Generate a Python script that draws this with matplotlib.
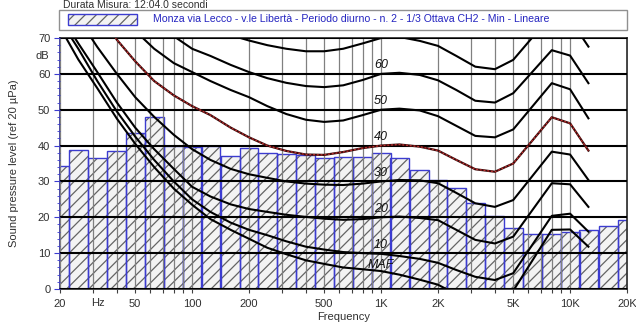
import numpy as np
import matplotlib
matplotlib.use('Agg')
import matplotlib.pyplot as plt
from matplotlib.patches import Rectangle
from matplotlib.ticker import FixedLocator, MultipleLocator, NullFormatter

plt.rcParams['font.family'] = ['Liberation Sans', 'DejaVu Sans']
plt.rcParams['hatch.linewidth'] = 0.9

# livelli minimi per banda di terzo d'ottava (dB)
band_freqs = [20, 25, 31.5, 40, 50, 63, 80, 100, 125, 160, 200, 250, 315, 400, 500,
              630, 800, 1000, 1250, 1600, 2000, 2500, 3150, 4000, 5000, 6300, 8000,
              10000, 12500, 16000, 20000]
band_levels = [34.4, 38.8, 36.5, 38.5, 43.6, 47.9, 40.0, 39.6, 40.0, 37.2, 39.4, 38.0,
               37.6, 37.4, 36.5, 36.7, 36.7, 37.9, 36.5, 33.2, 30.3, 28.1, 23.9, 20.4,
               16.9, 15.4, 15.3, 16.0, 16.4, 17.5, 19.3]

# curve isofoniche
contour_freqs = [20, 25, 31.5, 40, 50, 63, 80, 100, 125, 160, 200, 250, 315, 400, 500,
                 630, 800, 1000, 1250, 1600, 2000, 2500, 3150, 4000, 5000, 8000, 10000, 12500]
maf = [73, 64, 56, 47.5, 40.5, 34, 28, 23.5, 19.5, 16.5, 14, 11.5, 9.7, 8.0, 7.0, 6.0,
       5.5, 5.0, 4.0, 2.6, 1.2, -1.5, -4.0, -5.0, -0.5, 16.5, 16.6, 11.8]
phon10 = [75, 67, 58, 49.5, 42.5, 36, 30, 25, 21.5, 18.5, 16.5, 15, 13.3, 11.8, 11, 10.3,
          10, 9.8, 9.2, 8.4, 7.3, 5.3, 3.4, 2.5, 4.4, 20.4, 21.0, 16.0]
phon20 = [76.5, 68.5, 60.5, 52, 45, 39, 33.5, 28.5, 25.8, 23.6, 22.3, 21.5, 20.7, 20.1,
          19.6, 19.3, 19.5, 20.0, 20.2, 19.8, 19.2, 16.5, 13.7, 12.7, 14.6, 29.5, 29.2, 22.9]
phon30 = [83, 75.5, 67.5, 60, 53.5, 48, 43, 39, 36, 33.5, 32, 31, 30, 29.4, 29.1, 29,
          29.4, 30, 30.4, 30.3, 29.5, 26.8, 23.9, 22.9, 24.8, 38.3, 37.5, 30.4]
phon40 = [93, 86, 78.5, 69.5, 63.5, 58, 54, 51, 48.5, 45, 42.3, 40, 38.5, 37.5, 37.4,
          38.2, 39.3, 40, 40.3, 39.7, 38.6, 36, 33.4, 32.7, 35.0, 47.9, 46.2, 38.6]
phon50 = [99, 92, 85, 78, 72, 67, 63, 60.5, 58, 55.5, 53.5, 51, 48.8, 47.2, 46.6, 47,
          48.5, 50, 50.3, 49.8, 48.2, 45.5, 42.7, 42.3, 44.5, 57.4, 55.7, 47.6]
phon60 = [108, 101, 94, 88, 83, 77, 70.5, 67, 65, 62.5, 60.5, 58.8, 57.5, 56.6, 56.3,
          56.8, 58.3, 60, 60.3, 59.7, 58.2, 55.5, 52.5, 52.0, 54.6, 66.6, 65.1, 57.4]
phon70 = [117, 110, 104, 98, 92, 86, 81, 77, 73.5, 70.8, 69.3, 68, 67, 66.3, 66.3, 67,
          68.5, 70, 70.3, 69.2, 67.8, 65, 62, 61.3, 63.9, 76.5, 75.2, 67.6]

contour_labels = ['MAF', '10', '20', '30', '40', '50', '60']
label_levels = [6.7, 12.3, 22.2, 32.4, 42.5, 52.5, 62.5]

grid_freqs = [20, 30, 40, 50, 60, 70, 80, 90, 100, 200, 300, 400, 500, 600, 700, 800, 900,
              1000, 2000, 3000, 4000, 5000, 6000, 7000, 8000, 9000, 10000, 20000]
xtick_text = {20: '20', 50: '50', 100: '100', 200: '200', 500: '500', 1000: '1K',
              2000: '2K', 5000: '5K', 10000: '10K', 20000: '20K'}

BLUE = '#3c3cd0'
TXT = '#303030'

fig = plt.figure(figsize=(6.36, 3.29), dpi=100)
W, H = 636, 329
ax = fig.add_axes([60 / W, 1 - 289 / H, (627 - 60) / W, (289 - 38) / H])

# barre di terzo d'ottava
f = np.array(band_freqs)
lo = f * 10 ** -0.05
hi = f * 10 ** 0.05
ax.bar(lo, band_levels, width=hi - lo, align='edge', facecolor='#f3f3f3',
       edgecolor='#646464', hatch='///', linewidth=0, zorder=1)
ax.bar(lo, band_levels, width=hi - lo, align='edge', fill=False,
       edgecolor=BLUE, linewidth=1.0, zorder=1.2)

# isofoniche
for lev in [maf, phon10, phon20, phon30, phon50, phon60, phon70]:
    ax.plot(contour_freqs, lev, color='black', lw=1.5, zorder=3)
ax.plot(contour_freqs, phon40, color='#3a0a0a', lw=1.6, zorder=3)
ax.plot(contour_freqs, phon40, color='#c03030', lw=0.9, ls=(0, (1.5, 1.5)), zorder=3.1)

for txt, lev in zip(contour_labels, label_levels):
    ax.text(1000, lev, txt, fontsize=9, fontstyle='italic', ha='center', va='center',
            color='#111111', zorder=4)

ax.set_xscale('log')
ax.set_xlim(20, 20000)
ax.set_ylim(0, 70)

ax.xaxis.set_major_locator(FixedLocator(grid_freqs))
ax.xaxis.set_minor_locator(FixedLocator([]))
ax.set_xticklabels([xtick_text.get(g, '') for g in grid_freqs])
ax.yaxis.set_major_locator(MultipleLocator(10))
ax.yaxis.set_minor_locator(MultipleLocator(2))
ax.yaxis.set_minor_formatter(NullFormatter())

ax.tick_params(axis='x', which='major', length=3, width=0.8, color='#404040',
               labelsize=8, labelcolor=TXT, pad=4)
ax.tick_params(axis='y', which='major', length=4, width=0.8, color=BLUE,
               labelsize=8, labelcolor=TXT, pad=3)
ax.tick_params(axis='y', which='minor', length=2, width=0.6, color=BLUE)

ax.set_axisbelow(False)
ax.xaxis.grid(True, color='#808080', lw=0.9)
ax.yaxis.grid(True, color='black', lw=1.5)

for side in ['top', 'right', 'bottom']:
    ax.spines[side].set_color('#202020')
    ax.spines[side].set_linewidth(1.2)
ax.spines['left'].set_color('#2a2a90')
ax.spines['left'].set_linewidth(1.2)

ax.text(-0.02, 65, 'dB', transform=ax.get_yaxis_transform(), ha='right', va='center',
        fontsize=8, color=TXT)
ax.text(31.6, -0.035, 'Hz', transform=ax.get_xaxis_transform(), ha='center', va='top',
        fontsize=8, color=TXT)

ax.set_xlabel('Frequency', fontsize=8, color=TXT, labelpad=2)
fig.text(14 / W, 1 - 163 / H, 'Sound pressure level (ref 20 \u00b5Pa)', rotation=90,
         ha='center', va='center', fontsize=8, color=TXT)

# intestazione e legenda
fig.text(63 / W, 1 - 8 / H, 'Durata Misura: 12:04.0 secondi', fontsize=7.5, color=TXT,
         va='baseline')
fig.add_artist(Rectangle((59 / W, 1 - 30 / H), 568 / W, 20 / H, transform=fig.transFigure,
                         facecolor='white', edgecolor='#909090', lw=1))
fig.add_artist(Rectangle((68 / W, 1 - 25 / H), 69 / W, 11 / H, transform=fig.transFigure,
                         facecolor='#f3f3f3', edgecolor='#646464', hatch='///', lw=0))
fig.add_artist(Rectangle((68 / W, 1 - 25 / H), 69 / W, 11 / H, transform=fig.transFigure,
                         fill=False, edgecolor=BLUE, lw=1))
fig.text(153 / W, 1 - 19.5 / H,
         'Monza via Lecco - v.le Libert\u00e0 - Periodo diurno - n. 2 - 1/3 Ottava CH2 - Min - Lineare',
         fontsize=7.6, color='#2424c0', va='center')

fig.savefig('out.png', dpi=100)
